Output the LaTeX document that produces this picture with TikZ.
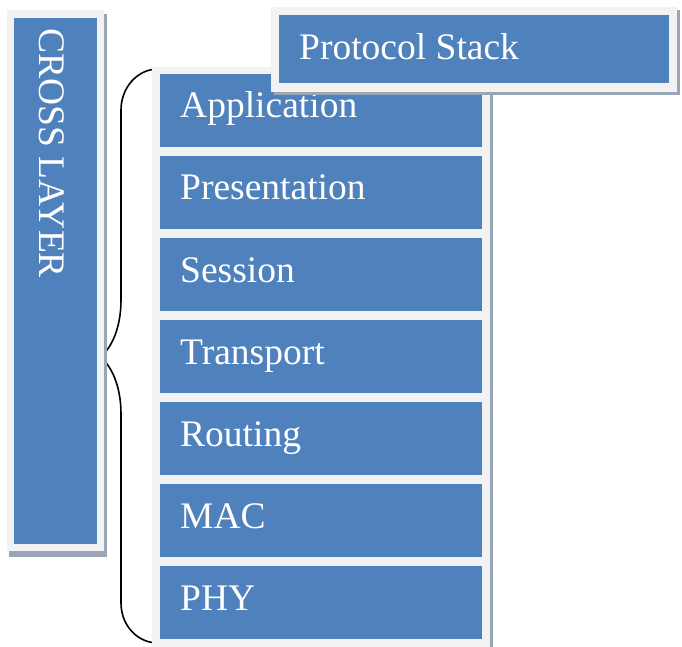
\documentclass[tikz,border=0pt]{standalone}
\usepackage{fontspec}
\setmainfont{Liberation Serif}
\definecolor{cellblue}{HTML}{4F81BD}
\definecolor{framegray}{HTML}{F2F2F2}
\definecolor{shadowgray}{HTML}{98A6B8}
\begin{document}
\begin{tikzpicture}[x=1pt,y=-1pt,
  lbl/.style={text=white, inner sep=0pt, anchor=base west, font=\fontsize{37.5}{40}\selectfont},
  cell/.style={fill=cellblue, draw=none},
  frame/.style={fill=framegray, draw=none},
  shadow/.style={fill=shadowgray, draw=none},
  bracestyle/.style={draw=black, line width=1.6pt, line join=round}]
\useasboundingbox (0,0) rectangle (682,647);
% Brace (its tip runs under the cross layer box)
\coordinate (btop) at (158,69);
\coordinate (bmid) at (100,357);
\coordinate (bbot) at (158,643);
\draw[bracestyle] (btop) .. controls (137.6,69) and (121,87.4) .. (121,110) -- (121,300)
  .. controls (121,330) and (110,350) .. (bmid)
  .. controls (110,364) and (121,384) .. (121,414) -- (121,603)
  .. controls (121,625.6) and (137.6,643) .. (bbot);
% Cross layer box
\fill[shadow] (9,14) rectangle (107,557);
\fill[frame] (7,10) rectangle (104,551);
\fill[cell] (14,18) rectangle (97,544);
\node[lbl, rotate=-90] (cross) at (39,28) {CROSS LAYER};
% Stack
\fill[shadow] (155,70) rectangle (493,647);
\fill[frame] (152,67) rectangle (490,647);
\foreach \t/\n [count=\i from 0] in {Application/app, Presentation/pres, Session/sess, Transport/trans, Routing/rout, MAC/mac, PHY/phy}{
  \pgfmathsetmacro{\top}{74+82*\i}
  \fill[cell] (160,\top) rectangle (482,\top+73);
  \node[lbl] (\n) at (180,\top+44) {\t};
}
% Protocol stack title
\fill[shadow] (274,10) rectangle (680,95);
\fill[frame] (271,7) rectangle (677,92);
\fill[cell] (279,15) rectangle (669,83);
\node[lbl] (title) at (299,60) {Protocol Stack};
\end{tikzpicture}
\end{document}
